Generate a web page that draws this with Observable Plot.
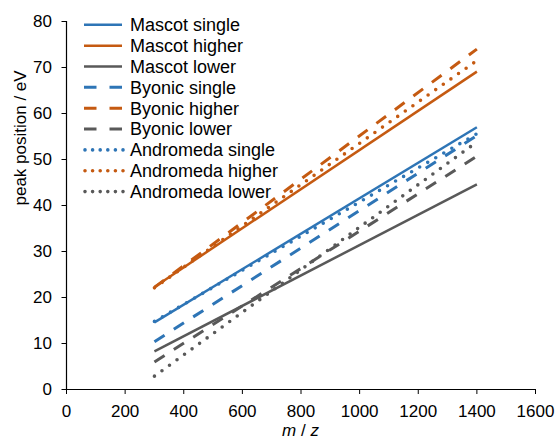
<!DOCTYPE html>
<html><head><meta charset="utf-8">
<script src="https://cdn.jsdelivr.net/npm/d3@7"></script>
<script src="https://cdn.jsdelivr.net/npm/@observablehq/plot@0.6"></script>
<style>
body{margin:0;background:#fff;}
#wrap{width:558px;height:440px;}
</style></head><body><div id="wrap"></div>
<script>
// m/z values at which each fitted line is drawn
const mz = [300, 1400];
const seriesNames = ["Mascot single","Mascot higher","Mascot lower","Byonic single","Byonic higher","Byonic lower","Andromeda single","Andromeda higher","Andromeda lower"];
const peakAt300  = [14.6, 22.3, 8.3, 10.4, 22.2, 6.0, 14.8, 22.1, 2.9];
const peakAt1400 = [57.0, 69.1, 44.6, 55.2, 74.0, 50.7, 55.6, 71.5, 53.8];
const xTicks = [0, 200, 400, 600, 800, 1000, 1200, 1400, 1600];
const yTicks = [0, 10, 20, 30, 40, 50, 60, 70, 80];
const yTitle = "peak position / eV";

const colors = ["#2E75B6", "#C55A11", "#595959"];      // single, higher, lower
const styles = [
  {strokeWidth: 2.5, strokeDasharray: null, strokeLinecap: "butt"},          // Mascot solid
  {strokeWidth: 3, strokeDasharray: "12,11", strokeLinecap: "butt"},         // Byonic dashed
  {strokeWidth: 3.6, strokeDasharray: "0,9.3", strokeLinecap: "round"}       // Andromeda dotted
];
const font = "Arial, 'Liberation Sans', sans-serif";

const data = seriesNames.flatMap((s, i) => mz.map((m, j) => ({series: s, mz: m, peak: j ? peakAt1400[i] : peakAt300[i]})));

const lineMarks = seriesNames.map((s, i) => {
  const st = styles[Math.floor(i / 3)];
  const o = {x: "mz", y: "peak", stroke: colors[i % 3], strokeWidth: st.strokeWidth, strokeLinecap: st.strokeLinecap};
  if (st.strokeDasharray) o.strokeDasharray = st.strokeDasharray;
  return Plot.line(data.filter(d => d.series === s), o);
});

const chart = Plot.plot({
  width: 558, height: 440,
  marginLeft: 66, marginRight: 23, marginTop: 21, marginBottom: 51,
  x: {domain: [0, 1600]},
  y: {domain: [0, 80]},
  style: {fontFamily: font, fontSize: "17px", color: "#000", background: "#fff"},
  marks: [
    Plot.axisX({ticks: xTicks, tickSize: 5, tickPadding: 10, tickFormat: d => String(d), label: null, fontSize: 17}),
    Plot.axisY({ticks: yTicks, tickSize: 4.5, tickPadding: 10, tickFormat: d => String(d), label: null, fontSize: 17}),
    Plot.ruleX([0], {stroke: "#000", strokeWidth: 1.2}),
    Plot.ruleY([0], {stroke: "#000", strokeWidth: 1.2}),
    Plot.text([yTitle], {frameAnchor: "left", dx: -46, rotate: -90, text: d => d, fontSize: 17, fill: "#000"}),
    ...lineMarks
  ]
});
document.getElementById("wrap").appendChild(chart);

const svg = d3.select(chart);
// x axis title with italic m and z
const xt = svg.append("text")
  .attr("x", (66 + 535) / 2).attr("y", 436)
  .attr("text-anchor", "middle").attr("font-family", font).attr("font-size", 17).attr("fill", "#000");
xt.append("tspan").attr("font-style", "italic").text("m");
xt.append("tspan").text(" / ");
xt.append("tspan").attr("font-style", "italic").text("z");

// legend
const lg = svg.append("g").attr("font-family", font).attr("font-size", 18).attr("fill", "#000").attr("text-anchor", "start");
seriesNames.forEach((s, i) => {
  const cy = 24.8 + i * 20.85;
  const g = Math.floor(i / 3);
  const st = styles[g];
  const ln = lg.append("line")
    .attr("x1", g === 2 ? 85 : 84).attr("x2", g === 2 ? 123 : 122)
    .attr("y1", cy).attr("y2", cy)
    .attr("stroke", colors[i % 3]).attr("stroke-width", st.strokeWidth)
    .attr("stroke-linecap", st.strokeLinecap);
  if (g === 1) ln.attr("stroke-dasharray", "12.5,13");
  if (g === 2) ln.attr("stroke-dasharray", "0,7.6");
  lg.append("text").attr("x", 130).attr("y", cy).attr("dy", "0.35em").attr("text-anchor", "start").text(s);
});
</script>
</body></html>
